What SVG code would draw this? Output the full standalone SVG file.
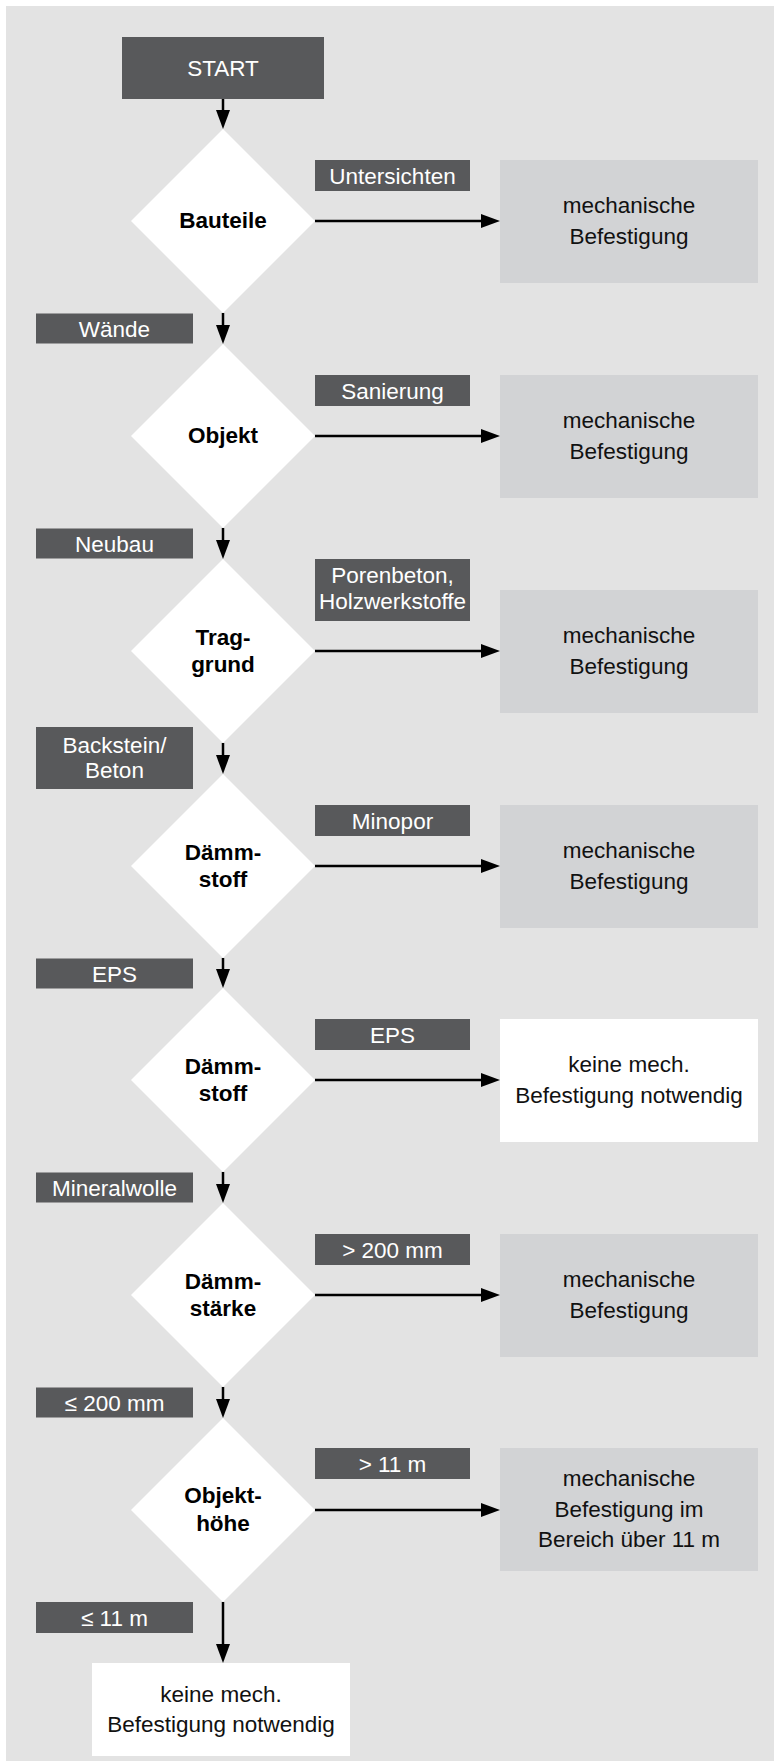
<svg xmlns="http://www.w3.org/2000/svg" width="776" height="1761" viewBox="0 0 776 1761">
<defs>
<style>
text{font-family:"Liberation Sans",Arial,sans-serif;font-size:22.5px;text-anchor:middle}
.lab{fill:#58595b}
.lt{fill:#ffffff}
.mech{fill:#d2d3d5}
.wbox{fill:#ffffff}
.dia{fill:#ffffff}
.dt{font-weight:bold;fill:#000000}
.bt{fill:#111111}
.con line{stroke:#000000;stroke-width:2.5;fill:none}
</style>
<marker id="ah" markerWidth="19" markerHeight="14" refX="9" refY="7" orient="auto" markerUnits="userSpaceOnUse">
<path d="M0,0 L19,7 L0,14 z" fill="#000000"/>
</marker>
</defs>
<rect x="0" y="0" width="776" height="1761" fill="#ffffff"/>
<rect x="6" y="6" width="768" height="1755" fill="#e3e3e3"/>

<g id="start"><rect class="lab" x="122" y="37" width="202" height="62"/><text class="lt" x="223" y="76">START</text></g>

<g id="d1"><polygon class="dia" points="223,129 315,221 223,313 131,221"/><text class="dt" x="223" y="228">Bauteile</text></g>
<g id="l1r"><rect class="lab" x="315" y="160" width="155" height="31"/><text class="lt" x="392.5" y="183.5">Untersichten</text></g>
<g id="m1"><rect class="mech" x="500" y="160" width="258" height="123"/><text class="bt" x="629" y="213">mechanische</text><text class="bt" x="629" y="244">Befestigung</text></g>
<g id="l1d"><rect class="lab" x="36" y="313.5" width="157" height="30"/><text class="lt" x="114.5" y="336.5">Wände</text></g>

<g id="d2"><polygon class="dia" points="223,344 315,436 223,528 131,436"/><text class="dt" x="223" y="443">Objekt</text></g>
<g id="l2r"><rect class="lab" x="315" y="375" width="155" height="31"/><text class="lt" x="392.5" y="398.5">Sanierung</text></g>
<g id="m2"><rect class="mech" x="500" y="375" width="258" height="123"/><text class="bt" x="629" y="428">mechanische</text><text class="bt" x="629" y="459">Befestigung</text></g>
<g id="l2d"><rect class="lab" x="36" y="528.5" width="157" height="30"/><text class="lt" x="114.5" y="551.5">Neubau</text></g>

<g id="d3"><polygon class="dia" points="223,559 315,651 223,743 131,651"/><text class="dt" x="223" y="645">Trag-</text><text class="dt" x="223" y="672">grund</text></g>
<g id="l3r"><rect class="lab" x="315" y="559" width="155" height="62"/><text class="lt" x="392.5" y="583">Porenbeton,</text><text class="lt" x="392.5" y="609">Holzwerkstoffe</text></g>
<g id="m3"><rect class="mech" x="500" y="590" width="258" height="123"/><text class="bt" x="629" y="643">mechanische</text><text class="bt" x="629" y="674">Befestigung</text></g>
<g id="l3d"><rect class="lab" x="36" y="727" width="157" height="62"/><text class="lt" x="114.5" y="753">Backstein/</text><text class="lt" x="114.5" y="778">Beton</text></g>

<g id="d4"><polygon class="dia" points="223,774 315,866 223,958 131,866"/><text class="dt" x="223" y="860">Dämm-</text><text class="dt" x="223" y="887">stoff</text></g>
<g id="l4r"><rect class="lab" x="315" y="805" width="155" height="31"/><text class="lt" x="392.5" y="828.5">Minopor</text></g>
<g id="m4"><rect class="mech" x="500" y="805" width="258" height="123"/><text class="bt" x="629" y="858">mechanische</text><text class="bt" x="629" y="889">Befestigung</text></g>
<g id="l4d"><rect class="lab" x="36" y="958.5" width="157" height="30"/><text class="lt" x="114.5" y="981.5">EPS</text></g>

<g id="d5"><polygon class="dia" points="223,988 315,1080 223,1172 131,1080"/><text class="dt" x="223" y="1074">Dämm-</text><text class="dt" x="223" y="1101">stoff</text></g>
<g id="l5r"><rect class="lab" x="315" y="1019" width="155" height="31"/><text class="lt" x="392.5" y="1042.5">EPS</text></g>
<g id="m5"><rect class="wbox" x="500" y="1019" width="258" height="123"/><text class="bt" x="629" y="1072">keine mech.</text><text class="bt" x="629" y="1103">Befestigung notwendig</text></g>
<g id="l5d"><rect class="lab" x="36" y="1172.5" width="157" height="30"/><text class="lt" x="114.5" y="1195.5">Mineralwolle</text></g>

<g id="d6"><polygon class="dia" points="223,1203 315,1295 223,1387 131,1295"/><text class="dt" x="223" y="1289">Dämm-</text><text class="dt" x="223" y="1316">stärke</text></g>
<g id="l6r"><rect class="lab" x="315" y="1234" width="155" height="31"/><text class="lt" x="392.5" y="1257.5">&gt; 200 mm</text></g>
<g id="m6"><rect class="mech" x="500" y="1234" width="258" height="123"/><text class="bt" x="629" y="1287">mechanische</text><text class="bt" x="629" y="1318">Befestigung</text></g>
<g id="l6d"><rect class="lab" x="36" y="1387.5" width="157" height="30"/><text class="lt" x="114.5" y="1410.5">≤ 200 mm</text></g>

<g id="d7"><polygon class="dia" points="223,1418 315,1510 223,1602 131,1510"/><text class="dt" x="223" y="1503">Objekt-</text><text class="dt" x="223" y="1531">höhe</text></g>
<g id="l7r"><rect class="lab" x="315" y="1448" width="155" height="31"/><text class="lt" x="392.5" y="1471.5">&gt; 11 m</text></g>
<g id="m7"><rect class="mech" x="500" y="1448" width="258" height="123"/><text class="bt" x="629" y="1486">mechanische</text><text class="bt" x="629" y="1517">Befestigung im</text><text class="bt" x="629" y="1547">Bereich über 11 m</text></g>
<g id="l7d"><rect class="lab" x="36" y="1602" width="157" height="31"/><text class="lt" x="114.5" y="1625.5">≤ 11 m</text></g>

<g id="end"><rect class="wbox" x="92" y="1663" width="258" height="93"/><text class="bt" x="221" y="1701.5">keine mech.</text><text class="bt" x="221" y="1732">Befestigung notwendig</text></g>

<g class="con" id="connectors">
<line x1="223" y1="99" x2="223" y2="119" marker-end="url(#ah)"/>
<line x1="223" y1="313" x2="223" y2="334" marker-end="url(#ah)"/>
<line x1="223" y1="528" x2="223" y2="549" marker-end="url(#ah)"/>
<line x1="223" y1="743" x2="223" y2="764" marker-end="url(#ah)"/>
<line x1="223" y1="958" x2="223" y2="978" marker-end="url(#ah)"/>
<line x1="223" y1="1172" x2="223" y2="1193" marker-end="url(#ah)"/>
<line x1="223" y1="1387" x2="223" y2="1408" marker-end="url(#ah)"/>
<line x1="223" y1="1602" x2="223" y2="1653" marker-end="url(#ah)"/>
<line x1="315" y1="221" x2="490" y2="221" marker-end="url(#ah)"/>
<line x1="315" y1="436" x2="490" y2="436" marker-end="url(#ah)"/>
<line x1="315" y1="651" x2="490" y2="651" marker-end="url(#ah)"/>
<line x1="315" y1="866" x2="490" y2="866" marker-end="url(#ah)"/>
<line x1="315" y1="1080" x2="490" y2="1080" marker-end="url(#ah)"/>
<line x1="315" y1="1295" x2="490" y2="1295" marker-end="url(#ah)"/>
<line x1="315" y1="1510" x2="490" y2="1510" marker-end="url(#ah)"/>
</g>
</svg>
